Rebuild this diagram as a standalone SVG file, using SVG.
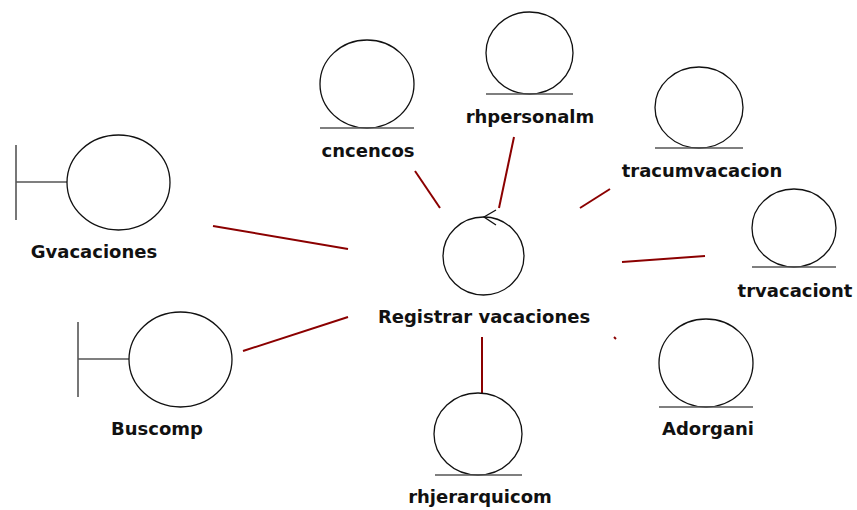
<svg xmlns="http://www.w3.org/2000/svg" width="857" height="510" viewBox="0 0 857 510">
<style>
.c{fill:none;stroke:#111;stroke-width:1.3}
.u{stroke:#555;stroke-width:1.6}
.t{font-family:"DejaVu Sans",Verdana,sans-serif;font-weight:bold;font-size:18px;fill:#111;text-anchor:middle}
.k{stroke:#8b0000;stroke-width:2;fill:none}
</style>
<rect width="857" height="510" fill="#fff"/>
<g id="connectors">
<line class="k" x1="213" y1="226" x2="348" y2="249"/>
<line class="k" x1="243" y1="351" x2="348" y2="317"/>
<line class="k" x1="415" y1="171" x2="440" y2="208"/>
<line class="k" x1="514" y1="137" x2="499" y2="208"/>
<line class="k" x1="580" y1="208" x2="610" y2="189"/>
<line class="k" x1="622" y1="262" x2="705" y2="256"/>
<line class="k" x1="614" y1="337" x2="616" y2="339"/>
<line class="k" x1="482" y1="337" x2="482" y2="393"/>
</g>
<g id="Gvacaciones">
<line class="u" x1="16" y1="145" x2="16" y2="220"/>
<line class="u" x1="16" y1="182" x2="67" y2="182"/>
<ellipse class="c" cx="118.5" cy="182.5" rx="51.5" ry="47.5"/>
<text class="t" x="94" y="258">Gvacaciones</text>
</g>
<g id="Buscomp">
<line class="u" x1="78" y1="322" x2="78" y2="397"/>
<line class="u" x1="78" y1="359" x2="129" y2="359"/>
<ellipse class="c" cx="180.5" cy="359.5" rx="51.5" ry="47.5"/>
<text class="t" x="157" y="435">Buscomp</text>
</g>
<g id="cncencos">
<ellipse class="c" cx="367" cy="84" rx="47" ry="44"/>
<line class="u" x1="320" y1="128" x2="414" y2="128"/>
<text class="t" x="368" y="157">cncencos</text>
</g>
<g id="rhpersonalm">
<ellipse class="c" cx="529.5" cy="53" rx="43.5" ry="41"/>
<line class="u" x1="486" y1="94" x2="573" y2="94"/>
<text class="t" x="530" y="123">rhpersonalm</text>
</g>
<g id="tracumvacacion">
<ellipse class="c" cx="699" cy="107.5" rx="44" ry="40.5"/>
<line class="u" x1="655" y1="148" x2="743" y2="148"/>
<text class="t" x="702" y="177">tracumvacacion</text>
</g>
<g id="trvacaciont">
<ellipse class="c" cx="794" cy="228" rx="42" ry="39"/>
<line class="u" x1="752" y1="267" x2="836" y2="267"/>
<text class="t" x="795" y="297">trvacaciont</text>
</g>
<g id="Adorgani">
<ellipse class="c" cx="706" cy="363" rx="47" ry="44"/>
<line class="u" x1="659" y1="407" x2="753" y2="407"/>
<text class="t" x="708" y="435">Adorgani</text>
</g>
<g id="rhjerarquicom">
<ellipse class="c" cx="478" cy="434" rx="44" ry="41"/>
<line class="u" x1="435" y1="475" x2="522" y2="475"/>
<text class="t" x="480" y="503">rhjerarquicom</text>
</g>
<g id="Registrar_vacaciones">
<ellipse class="c" cx="483.5" cy="256" rx="40.5" ry="39"/>
<polyline class="c" points="496,210 484,217 496,225"/>
<text class="t" x="484" y="323">Registrar vacaciones</text>
</g>
</svg>
